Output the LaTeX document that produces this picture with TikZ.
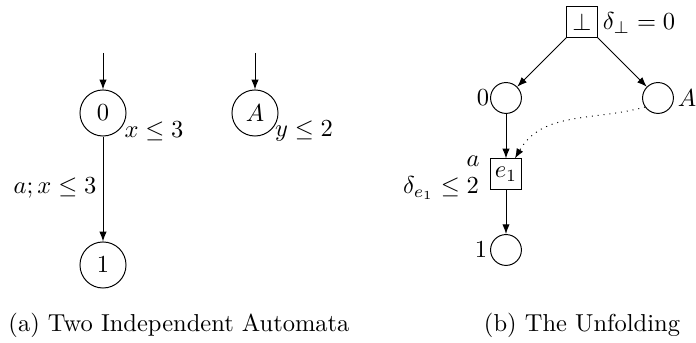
\documentclass[tikz,border=0pt]{standalone}
\usetikzlibrary{arrows.meta}
\begin{document}
\begin{tikzpicture}[x=0.40816pt,y=-0.40816pt,
  arr/.style={draw,line width=0.4pt,-{Latex[length=4pt,width=3pt]}},
  bigst/.style={draw,circle,line width=0.4pt,minimum size=18.8pt,inner sep=0pt},
  cond/.style={draw,circle,line width=0.4pt,minimum size=12.6pt,inner sep=0pt},
  evt/.style={draw,rectangle,line width=0.4pt,minimum width=12.6pt,minimum height=12.3pt,inner sep=0pt},
  lbl/.style={inner sep=0pt}]
\useasboundingbox (0,0) rectangle (696,343);
% (a) two independent automata
\node[bigst] (l0) at (103,113) {$0$};
\node[bigst] (lA) at (255,113) {$A$};
\node[bigst] (l1) at (103,265) {$1$};
\coordinate (i0) at (103,53);
\coordinate (iA) at (255,53);
\draw[arr] (i0) -- (l0);
\draw[arr] (iA) -- (lA);
\draw[arr] (l0) -- (l1);
\node[lbl] (inv0) at (154,131) {$x\leq 3$};
\node[lbl] (invA) at (304,131) {$y\leq 2$};
\node[lbl] (g01) at (55,188) {$a; x\leq 3$};
% (b) the unfolding
\node[evt] (bot) at (582,22) {$\bot$};
\node[cond] (r0) at (506,98) {};
\node[cond] (rA) at (658,98) {};
\node[evt] (e1) at (506,174) {$e_1$};
\node[cond] (r1) at (506,250) {};
\draw[arr] (bot) -- (r0);
\draw[arr] (bot) -- (rA);
\draw[arr] (r0) -- (e1);
\draw[arr] (e1) -- (r1);
\draw[arr,dotted] (rA.215) to[out=195,in=60] (e1.60);
\node[lbl] (dbot) at (639,23) {$\delta_{\bot}=0$};
\node[lbl] (n0) at (483,98) {$0$};
\node[lbl] (nA) at (687,98) {$A$};
\node[lbl] (na) at (473,161) {$a$};
\node[lbl] (de1) at (441,188) {$\delta_{e_1}\leq 2$};
\node[lbl] (n1) at (481,250) {$1$};
% captions
\node[lbl,anchor=base west] (capa) at (8,332) {(a) Two Independent Automata};
\node[lbl,anchor=base] (capb) at (582,332) {(b) The Unfolding};
\end{tikzpicture}
\end{document}
